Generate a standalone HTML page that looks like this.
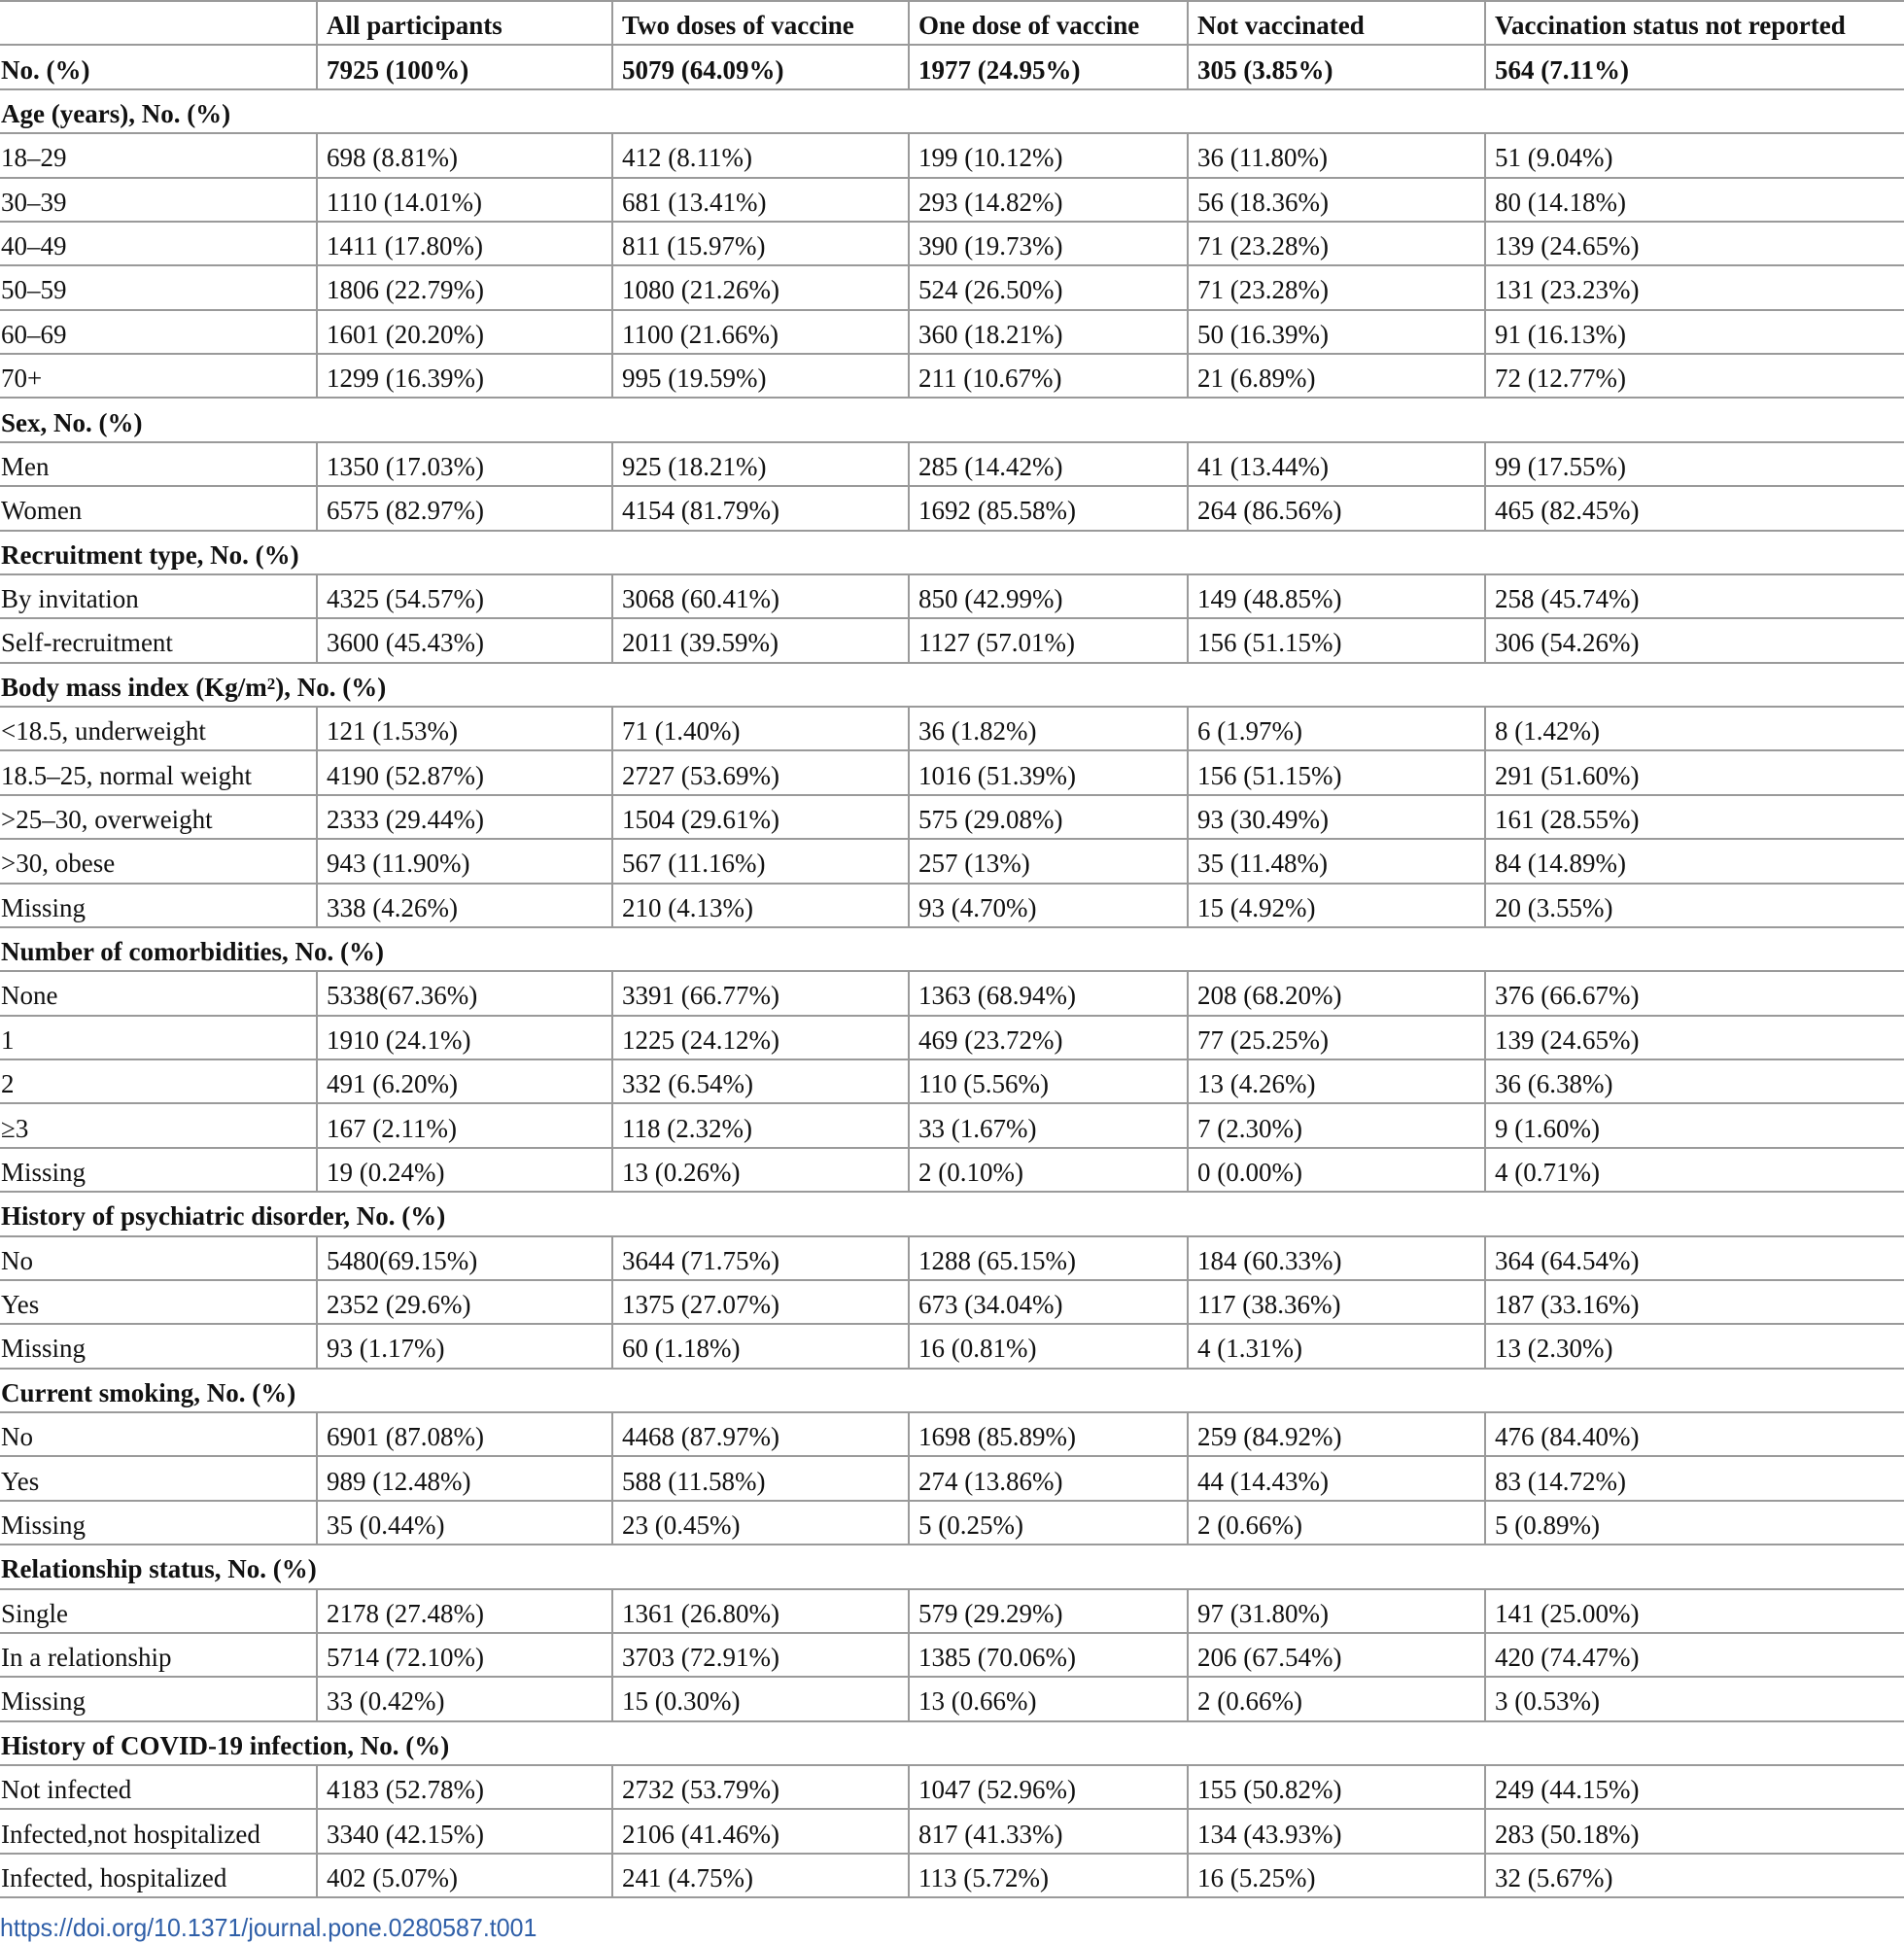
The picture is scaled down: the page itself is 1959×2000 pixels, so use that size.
<!DOCTYPE html>
<html><head><meta charset="utf-8"><style>
body{margin:0;width:1959px;height:2000px;background:#fff;overflow:hidden;font-family:"Liberation Serif",serif;color:#111;}
.t{position:absolute;left:0;top:0;width:1959px;border-top:2px solid #9a9a9a;}
.r{display:grid;grid-template-columns:325px 304px 305px 287px 306px 432px;height:45.38px;box-sizing:border-box;border-bottom:2px solid #9a9a9a;font-size:27px;}
.r>div{display:flex;align-items:center;padding-left:9px;white-space:nowrap;border-left:2px solid #9a9a9a;padding-top:6px}
.r>div:first-child{border-left:none;padding-left:1px}
.b{font-weight:bold}
.s{display:flex;align-items:center;height:45.38px;box-sizing:border-box;border-bottom:2px solid #9a9a9a;font-size:27px;font-weight:bold;padding-left:1px;padding-top:6px}
sup{font-size:17px;position:relative;top:-3px;line-height:0}
.doi{position:absolute;left:0;top:1968px;font-family:"Liberation Sans",sans-serif;font-size:26px;color:#2f5fa8;transform:scaleX(0.96);transform-origin:left}
</style></head><body>
<div class="t">
<div class="r b"><div></div><div>All participants</div><div>Two doses of vaccine</div><div>One dose of vaccine</div><div>Not vaccinated</div><div>Vaccination status not reported</div></div>
<div class="r b"><div>No. (%)</div><div>7925 (100%)</div><div>5079 (64.09%)</div><div>1977 (24.95%)</div><div>305 (3.85%)</div><div>564 (7.11%)</div></div>
<div class="s">Age (years), No. (%)</div>
<div class="r"><div>18–29</div><div>698 (8.81%)</div><div>412 (8.11%)</div><div>199 (10.12%)</div><div>36 (11.80%)</div><div>51 (9.04%)</div></div>
<div class="r"><div>30–39</div><div>1110 (14.01%)</div><div>681 (13.41%)</div><div>293 (14.82%)</div><div>56 (18.36%)</div><div>80 (14.18%)</div></div>
<div class="r"><div>40–49</div><div>1411 (17.80%)</div><div>811 (15.97%)</div><div>390 (19.73%)</div><div>71 (23.28%)</div><div>139 (24.65%)</div></div>
<div class="r"><div>50–59</div><div>1806 (22.79%)</div><div>1080 (21.26%)</div><div>524 (26.50%)</div><div>71 (23.28%)</div><div>131 (23.23%)</div></div>
<div class="r"><div>60–69</div><div>1601 (20.20%)</div><div>1100 (21.66%)</div><div>360 (18.21%)</div><div>50 (16.39%)</div><div>91 (16.13%)</div></div>
<div class="r"><div>70+</div><div>1299 (16.39%)</div><div>995 (19.59%)</div><div>211 (10.67%)</div><div>21 (6.89%)</div><div>72 (12.77%)</div></div>
<div class="s">Sex, No. (%)</div>
<div class="r"><div>Men</div><div>1350 (17.03%)</div><div>925 (18.21%)</div><div>285 (14.42%)</div><div>41 (13.44%)</div><div>99 (17.55%)</div></div>
<div class="r"><div>Women</div><div>6575 (82.97%)</div><div>4154 (81.79%)</div><div>1692 (85.58%)</div><div>264 (86.56%)</div><div>465 (82.45%)</div></div>
<div class="s">Recruitment type, No. (%)</div>
<div class="r"><div>By invitation</div><div>4325 (54.57%)</div><div>3068 (60.41%)</div><div>850 (42.99%)</div><div>149 (48.85%)</div><div>258 (45.74%)</div></div>
<div class="r"><div>Self-recruitment</div><div>3600 (45.43%)</div><div>2011 (39.59%)</div><div>1127 (57.01%)</div><div>156 (51.15%)</div><div>306 (54.26%)</div></div>
<div class="s">Body mass index (Kg/m<sup>2</sup>), No. (%)</div>
<div class="r"><div>&lt;18.5, underweight</div><div>121 (1.53%)</div><div>71 (1.40%)</div><div>36 (1.82%)</div><div>6 (1.97%)</div><div>8 (1.42%)</div></div>
<div class="r"><div>18.5–25, normal weight</div><div>4190 (52.87%)</div><div>2727 (53.69%)</div><div>1016 (51.39%)</div><div>156 (51.15%)</div><div>291 (51.60%)</div></div>
<div class="r"><div>&gt;25–30, overweight</div><div>2333 (29.44%)</div><div>1504 (29.61%)</div><div>575 (29.08%)</div><div>93 (30.49%)</div><div>161 (28.55%)</div></div>
<div class="r"><div>&gt;30, obese</div><div>943 (11.90%)</div><div>567 (11.16%)</div><div>257 (13%)</div><div>35 (11.48%)</div><div>84 (14.89%)</div></div>
<div class="r"><div>Missing</div><div>338 (4.26%)</div><div>210 (4.13%)</div><div>93 (4.70%)</div><div>15 (4.92%)</div><div>20 (3.55%)</div></div>
<div class="s">Number of comorbidities, No. (%)</div>
<div class="r"><div>None</div><div>5338(67.36%)</div><div>3391 (66.77%)</div><div>1363 (68.94%)</div><div>208 (68.20%)</div><div>376 (66.67%)</div></div>
<div class="r"><div>1</div><div>1910 (24.1%)</div><div>1225 (24.12%)</div><div>469 (23.72%)</div><div>77 (25.25%)</div><div>139 (24.65%)</div></div>
<div class="r"><div>2</div><div>491 (6.20%)</div><div>332 (6.54%)</div><div>110 (5.56%)</div><div>13 (4.26%)</div><div>36 (6.38%)</div></div>
<div class="r"><div>≥3</div><div>167 (2.11%)</div><div>118 (2.32%)</div><div>33 (1.67%)</div><div>7 (2.30%)</div><div>9 (1.60%)</div></div>
<div class="r"><div>Missing</div><div>19 (0.24%)</div><div>13 (0.26%)</div><div>2 (0.10%)</div><div>0 (0.00%)</div><div>4 (0.71%)</div></div>
<div class="s">History of psychiatric disorder, No. (%)</div>
<div class="r"><div>No</div><div>5480(69.15%)</div><div>3644 (71.75%)</div><div>1288 (65.15%)</div><div>184 (60.33%)</div><div>364 (64.54%)</div></div>
<div class="r"><div>Yes</div><div>2352 (29.6%)</div><div>1375 (27.07%)</div><div>673 (34.04%)</div><div>117 (38.36%)</div><div>187 (33.16%)</div></div>
<div class="r"><div>Missing</div><div>93 (1.17%)</div><div>60 (1.18%)</div><div>16 (0.81%)</div><div>4 (1.31%)</div><div>13 (2.30%)</div></div>
<div class="s">Current smoking, No. (%)</div>
<div class="r"><div>No</div><div>6901 (87.08%)</div><div>4468 (87.97%)</div><div>1698 (85.89%)</div><div>259 (84.92%)</div><div>476 (84.40%)</div></div>
<div class="r"><div>Yes</div><div>989 (12.48%)</div><div>588 (11.58%)</div><div>274 (13.86%)</div><div>44 (14.43%)</div><div>83 (14.72%)</div></div>
<div class="r"><div>Missing</div><div>35 (0.44%)</div><div>23 (0.45%)</div><div>5 (0.25%)</div><div>2 (0.66%)</div><div>5 (0.89%)</div></div>
<div class="s">Relationship status, No. (%)</div>
<div class="r"><div>Single</div><div>2178 (27.48%)</div><div>1361 (26.80%)</div><div>579 (29.29%)</div><div>97 (31.80%)</div><div>141 (25.00%)</div></div>
<div class="r"><div>In a relationship</div><div>5714 (72.10%)</div><div>3703 (72.91%)</div><div>1385 (70.06%)</div><div>206 (67.54%)</div><div>420 (74.47%)</div></div>
<div class="r"><div>Missing</div><div>33 (0.42%)</div><div>15 (0.30%)</div><div>13 (0.66%)</div><div>2 (0.66%)</div><div>3 (0.53%)</div></div>
<div class="s">History of COVID-19 infection, No. (%)</div>
<div class="r"><div>Not infected</div><div>4183 (52.78%)</div><div>2732 (53.79%)</div><div>1047 (52.96%)</div><div>155 (50.82%)</div><div>249 (44.15%)</div></div>
<div class="r"><div>Infected,not hospitalized</div><div>3340 (42.15%)</div><div>2106 (41.46%)</div><div>817 (41.33%)</div><div>134 (43.93%)</div><div>283 (50.18%)</div></div>
<div class="r"><div>Infected, hospitalized</div><div>402 (5.07%)</div><div>241 (4.75%)</div><div>113 (5.72%)</div><div>16 (5.25%)</div><div>32 (5.67%)</div></div>
</div>
<div class="doi">https://doi.org/10.1371/journal.pone.0280587.t001</div>
</body></html>
